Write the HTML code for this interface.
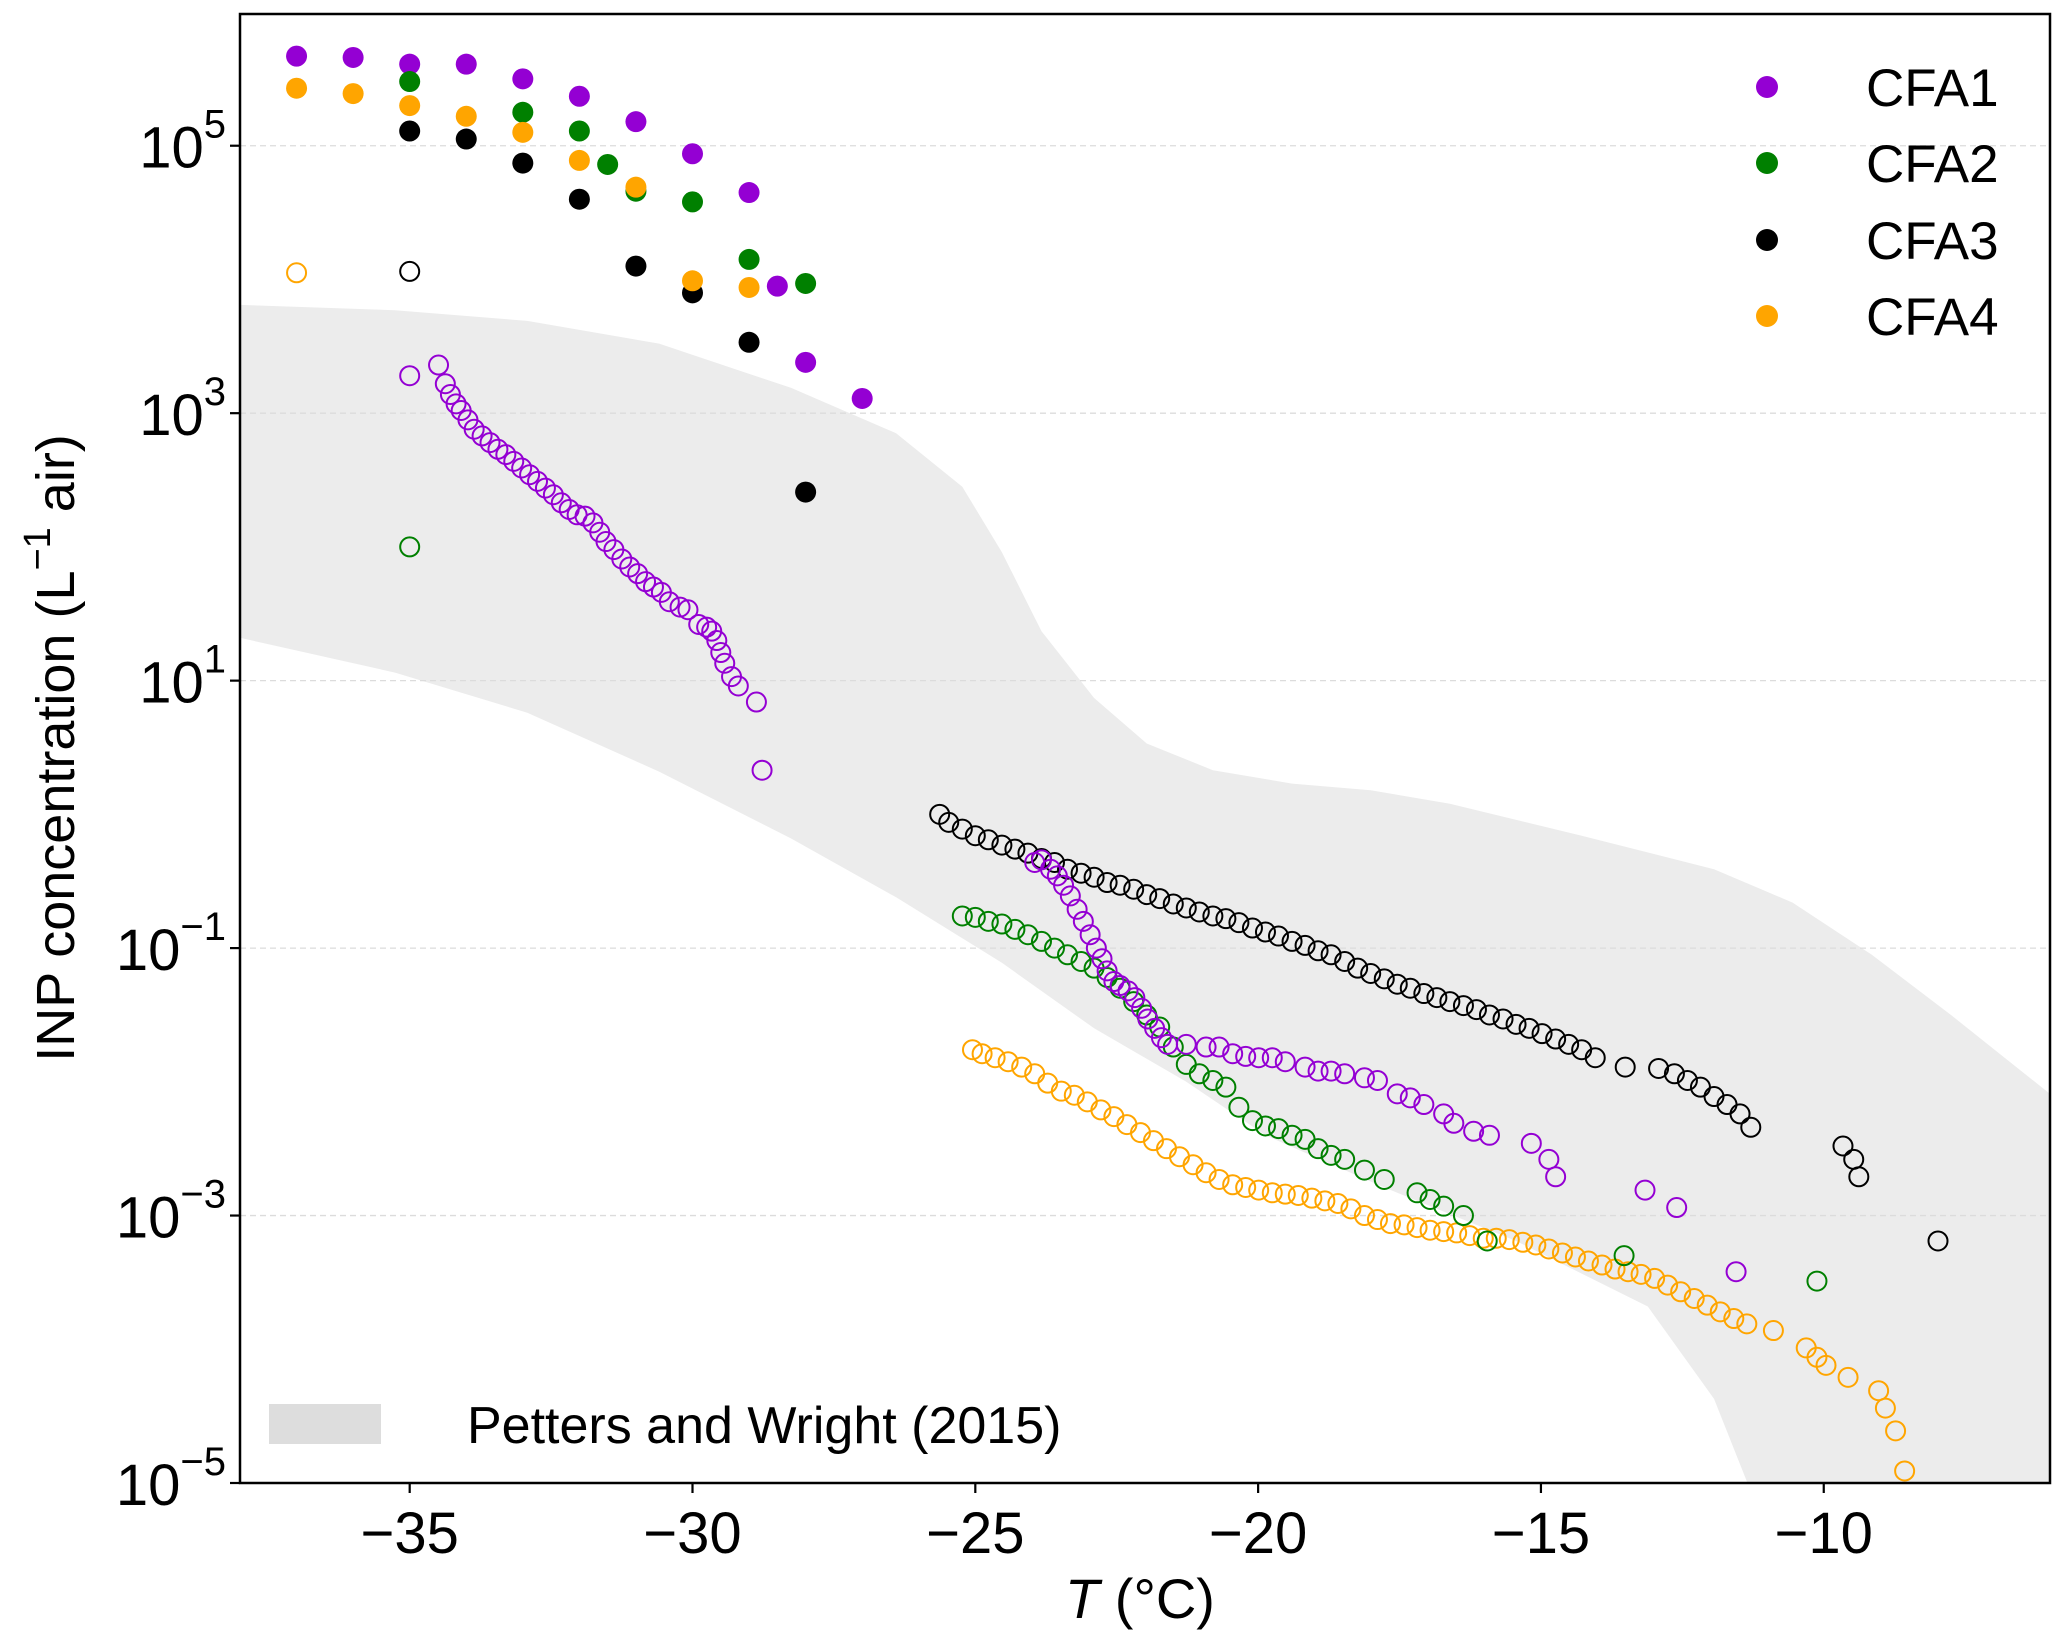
<!DOCTYPE html>
<html><head><meta charset="utf-8"><style>
html,body{margin:0;padding:0;background:#fff}
svg{display:block;font-family:"Liberation Sans",Arial,sans-serif}
</style></head><body>
<svg id="chart" width="2067" height="1642" viewBox="0 0 2067 1642" xmlns="http://www.w3.org/2000/svg">
<g id="band-layer"></g><g id="grid-layer"></g><g id="marks"></g><g id="axes"></g><g id="legend"></g>
</svg>
<script>
// ---- data (T in °C, values as log10 of INP concentration) ----
const bandUpperT=[-38,-35.26,-32.92,-30.59,-28.26,-26.40,-25.23,-24.53,-23.83,-22.90,-21.97,-20.80,-19.40,-18.01,-16.61,-14.28,-11.94,-10.55,-9.15,-7.75,-6.0];
const bandUpperLog=[3.81,3.77,3.69,3.52,3.19,2.85,2.45,1.96,1.37,0.87,0.53,0.33,0.23,0.18,0.08,-0.16,-0.41,-0.66,-1.05,-1.50,-2.09];
const bandLowerT=[-38,-35.26,-32.92,-30.59,-28.26,-26.40,-24.53,-22.90,-21.27,-19.87,-17.77,-15.44,-13.11,-11.94,-11.01,-10.55];
const bandLowerLog=[1.32,1.06,0.76,0.32,-0.18,-0.62,-1.11,-1.60,-2.00,-2.40,-2.79,-3.19,-3.68,-4.37,-5.36,-6.0];

const cfa1FilledT=[-37,-36,-35,-34,-33,-32,-31,-30,-29,-28.5,-28,-27];
const cfa1FilledLog=[5.67,5.66,5.61,5.61,5.5,5.37,5.18,4.94,4.65,3.95,3.38,3.11];
const cfa2FilledT=[-35,-33,-32,-31.5,-31,-30,-29,-28];
const cfa2FilledLog=[5.48,5.25,5.11,4.86,4.66,4.58,4.15,3.97];
const cfa3FilledT=[-35,-34,-33,-32,-31,-30,-29,-28];
const cfa3FilledLog=[5.11,5.05,4.87,4.6,4.1,3.9,3.53,2.41];
const cfa4FilledT=[-37,-36,-35,-34,-33,-32,-31,-30,-29];
const cfa4FilledLog=[5.43,5.39,5.3,5.22,5.1,4.89,4.69,3.99,3.94];

const cfa1OpenT=[-35,-34.49,-34.37,-34.28,-34.18,-34.09,-33.97,-33.86,-33.72,-33.58,-33.44,-33.30,-33.16,-33.02,-32.88,-32.74,-32.60,-32.46,-32.32,-32.18,-32.04,-31.90,-31.76,-31.64,-31.53,-31.39,-31.25,-31.11,-30.97,-30.83,-30.69,-30.55,-30.41,-30.22,-30.08,-29.89,-29.75,-29.66,-29.57,-29.50,-29.43,-29.31,-29.19,-28.87,-28.77,-23.95,-23.83,-23.67,-23.55,-23.44,-23.32,-23.20,-23.09,-22.97,-22.86,-22.76,-22.67,-22.55,-22.44,-22.30,-22.18,-22.06,-21.95,-21.83,-21.71,-21.60,-21.27,-20.92,-20.69,-20.45,-20.22,-19.99,-19.75,-19.52,-19.17,-18.94,-18.71,-18.47,-18.12,-17.89,-17.54,-17.31,-17.07,-16.72,-16.54,-16.19,-15.91,-15.17,-14.86,-14.74,-13.16,-12.60,-11.55];
const cfa1OpenLog=[3.28,3.36,3.22,3.14,3.07,3.02,2.95,2.88,2.83,2.78,2.73,2.69,2.64,2.59,2.54,2.49,2.44,2.39,2.33,2.28,2.24,2.23,2.18,2.11,2.04,1.98,1.91,1.85,1.80,1.74,1.70,1.66,1.59,1.55,1.53,1.42,1.40,1.37,1.30,1.21,1.13,1.03,0.96,0.84,0.33,-0.36,-0.34,-0.41,-0.46,-0.53,-0.61,-0.71,-0.80,-0.90,-1.00,-1.08,-1.17,-1.25,-1.28,-1.32,-1.37,-1.45,-1.53,-1.60,-1.67,-1.72,-1.72,-1.74,-1.74,-1.79,-1.81,-1.82,-1.82,-1.85,-1.89,-1.92,-1.92,-1.94,-1.97,-1.99,-2.09,-2.12,-2.17,-2.24,-2.31,-2.37,-2.40,-2.46,-2.58,-2.71,-2.81,-2.94,-3.42];

const cfa2OpenT=[-35,-25.23,-25.0,-24.77,-24.53,-24.30,-24.07,-23.83,-23.60,-23.37,-23.13,-22.90,-22.67,-22.44,-22.20,-21.97,-21.74,-21.50,-21.27,-21.04,-20.80,-20.57,-20.34,-20.10,-19.87,-19.64,-19.40,-19.17,-18.94,-18.71,-18.47,-18.12,-17.77,-17.19,-16.96,-16.72,-16.37,-15.95,-13.53,-10.12];
const cfa2OpenLog=[2.0,-0.76,-0.77,-0.80,-0.82,-0.86,-0.90,-0.95,-1.00,-1.05,-1.10,-1.15,-1.22,-1.30,-1.40,-1.50,-1.59,-1.74,-1.87,-1.94,-1.99,-2.04,-2.19,-2.29,-2.33,-2.35,-2.40,-2.43,-2.50,-2.55,-2.58,-2.66,-2.73,-2.83,-2.88,-2.93,-3.00,-3.19,-3.30,-3.49];

const cfa3OpenT=[-35,-25.63,-25.47,-25.23,-25.0,-24.77,-24.53,-24.30,-24.07,-23.83,-23.60,-23.37,-23.13,-22.90,-22.67,-22.44,-22.20,-21.97,-21.74,-21.50,-21.27,-21.04,-20.80,-20.57,-20.34,-20.10,-19.87,-19.64,-19.40,-19.17,-18.94,-18.71,-18.47,-18.24,-18.01,-17.77,-17.54,-17.31,-17.07,-16.84,-16.61,-16.37,-16.14,-15.91,-15.67,-15.44,-15.21,-14.98,-14.74,-14.51,-14.28,-14.04,-13.51,-12.92,-12.64,-12.41,-12.18,-11.94,-11.71,-11.48,-11.29,-9.66,-9.47,-9.38,-7.98];
const cfa3OpenLog=[4.06,0,-0.06,-0.11,-0.16,-0.19,-0.23,-0.26,-0.29,-0.33,-0.36,-0.41,-0.44,-0.47,-0.51,-0.53,-0.56,-0.60,-0.63,-0.67,-0.70,-0.73,-0.76,-0.78,-0.81,-0.85,-0.88,-0.91,-0.95,-0.98,-1.02,-1.05,-1.10,-1.15,-1.19,-1.23,-1.27,-1.30,-1.34,-1.37,-1.40,-1.43,-1.46,-1.50,-1.53,-1.57,-1.60,-1.64,-1.68,-1.72,-1.76,-1.82,-1.89,-1.90,-1.94,-1.99,-2.04,-2.11,-2.17,-2.24,-2.34,-2.48,-2.58,-2.71,-3.19];

const cfa4OpenT=[-37.0,-25.05,-24.88,-24.65,-24.42,-24.18,-23.95,-23.72,-23.48,-23.25,-23.02,-22.78,-22.55,-22.32,-22.08,-21.85,-21.62,-21.39,-21.15,-20.92,-20.69,-20.45,-20.22,-19.99,-19.75,-19.52,-19.29,-19.05,-18.82,-18.59,-18.36,-18.12,-17.89,-17.66,-17.42,-17.19,-16.96,-16.72,-16.49,-16.26,-16.02,-15.79,-15.56,-15.32,-15.09,-14.86,-14.62,-14.39,-14.16,-13.92,-13.69,-13.46,-13.23,-12.99,-12.76,-12.53,-12.29,-12.06,-11.83,-11.59,-11.36,-10.89,-10.31,-10.12,-9.96,-9.57,-9.03,-8.91,-8.73,-8.57];
const cfa4OpenLog=[4.05,-1.76,-1.79,-1.82,-1.85,-1.89,-1.94,-2.01,-2.07,-2.10,-2.15,-2.21,-2.26,-2.32,-2.38,-2.44,-2.50,-2.56,-2.62,-2.68,-2.73,-2.77,-2.79,-2.81,-2.83,-2.84,-2.85,-2.87,-2.89,-2.91,-2.95,-3.00,-3.03,-3.06,-3.07,-3.09,-3.11,-3.12,-3.13,-3.15,-3.17,-3.17,-3.18,-3.20,-3.22,-3.25,-3.28,-3.31,-3.34,-3.37,-3.40,-3.42,-3.44,-3.47,-3.52,-3.57,-3.62,-3.67,-3.72,-3.77,-3.81,-3.86,-3.99,-4.06,-4.12,-4.21,-4.31,-4.44,-4.61,-4.91];

const xTicks=[-35,-30,-25,-20,-15,-10];
const xTickLabels=["\u221235","\u221230","\u221225","\u221220","\u221215","\u221210"];
const yTicks=[5,3,1,-1,-3,-5];
const yTickLabels=["5","3","1","\u22121","\u22123","\u22125"];
const seriesNames=["CFA1","CFA2","CFA3","CFA4"];
const seriesColors=["#9400d3","#008000","#000000","#ffa500"];

// ---- scales ----
const L=240,R=2050,T0=14,B=1483;
const xMin=-38,xMax=-6,yMin=-5,yMax=5.985;
const xs=t=>L+(t-xMin)/(xMax-xMin)*(R-L);
const ys=v=>B-(v-yMin)/(yMax-yMin)*(B-T0);
const NS="http://www.w3.org/2000/svg";
function mk(tag,attrs,parent){const e=document.createElementNS(NS,tag);for(const k in attrs)e.setAttribute(k,attrs[k]);parent.appendChild(e);return e;}

const svg=document.getElementById('chart');
const bandLayer=document.getElementById('band-layer');
const grid=document.getElementById('grid-layer');
const marks=document.getElementById('marks');
const axes=document.getElementById('axes');
const legend=document.getElementById('legend');

const defs=mk('defs',{},svg);
const cp=mk('clipPath',{id:'plotclip'},defs);
mk('rect',{x:L,y:T0,width:R-L,height:B-T0},cp);
bandLayer.setAttribute('clip-path','url(#plotclip)');
marks.setAttribute('clip-path','url(#plotclip)');

// band: upper edge left->right, down the right side, lower edge right->left
let d='';
bandUpperT.forEach((t,i)=>{d+=(i?'L':'M')+xs(t).toFixed(1)+','+ys(bandUpperLog[i]).toFixed(1);});
d+='L'+xs(xMax).toFixed(1)+','+ys(yMin-1).toFixed(1);
for(let i=bandLowerT.length-1;i>=0;i--){d+='L'+xs(bandLowerT[i]).toFixed(1)+','+ys(bandLowerLog[i]).toFixed(1);}
d+='Z';
const band=mk('path',{d:d,fill:'#ececec',stroke:'none'},bandLayer);



yTicks.forEach(v=>{const g=mk('line',{x1:L,x2:R,y1:ys(v),y2:ys(v),stroke:'#dcdcdc','stroke-width':1.3,'stroke-dasharray':'6,4'},grid);

});

function drawFilled(tArr,vArr,color,name){tArr.forEach((t,i)=>{const c=mk('circle',{cx:xs(t),cy:ys(vArr[i]),r:10.5,fill:color},marks);

});}
function drawOpen(tArr,vArr,color,name){tArr.forEach((t,i)=>{const c=mk('circle',{cx:xs(t),cy:ys(vArr[i]),r:9.5,fill:'none',stroke:color,'stroke-width':2},marks);

});}
drawOpen(cfa4OpenT,cfa4OpenLog,seriesColors[3],'cfa4');
drawOpen(cfa2OpenT,cfa2OpenLog,seriesColors[1],'cfa2');
drawOpen(cfa3OpenT,cfa3OpenLog,seriesColors[2],'cfa3');
drawOpen(cfa1OpenT,cfa1OpenLog,seriesColors[0],'cfa1');
drawFilled(cfa1FilledT,cfa1FilledLog,seriesColors[0],'cfa1');
drawFilled(cfa2FilledT,cfa2FilledLog,seriesColors[1],'cfa2');
drawFilled(cfa3FilledT,cfa3FilledLog,seriesColors[2],'cfa3');
drawFilled(cfa4FilledT,cfa4FilledLog,seriesColors[3],'cfa4');

const frame=mk('rect',{x:L,y:T0,width:R-L,height:B-T0,fill:'none',stroke:'#000','stroke-width':2.5},axes);



xTicks.forEach((t,i)=>{const x=xs(t);
mk('line',{x1:x,x2:x,y1:B,y2:B+10,stroke:'#000','stroke-width':2.2},axes);
const tx=mk('text',{x:x,y:B+70,'font-size':58,'text-anchor':'middle',fill:'#000'},axes);
tx.textContent=xTickLabels[i];

});

yTicks.forEach((v,i)=>{const y=ys(v);
mk('line',{x1:L-10,x2:L,y1:y,y2:y,stroke:'#000','stroke-width':2.2},axes);
const tx=mk('text',{x:L-20,y:y+22,'font-size':58,'text-anchor':'start',fill:'#000'},axes);
const a=mk('tspan',{},tx);a.textContent='10';
const b=mk('tspan',{dy:-30,'font-size':40},tx);b.textContent=yTickLabels[i];


const w=tx.getComputedTextLength();tx.setAttribute('x',L-14-w);
});

const xl=mk('text',{x:1140,y:1618,'font-size':56,'text-anchor':'middle',fill:'#000'},axes);
const xi=mk('tspan',{'font-style':'italic'},xl);xi.textContent='T';
const xr=mk('tspan',{},xl);xr.textContent=' (\u00b0C)';



const yl=mk('text',{x:0,y:0,'font-size':54,'text-anchor':'middle',fill:'#000',transform:'translate(74,748) rotate(-90)'},axes);
const y1=mk('tspan',{},yl);y1.textContent='INP concentration (L';
const y2=mk('tspan',{dy:-24,'font-size':38},yl);y2.textContent='\u22121';
const y3=mk('tspan',{dy:24},yl);y3.textContent=' air)';



const legY=[87,163,240,316];
seriesNames.forEach((n,i)=>{
const c=mk('circle',{cx:1767,cy:legY[i],r:11,fill:seriesColors[i]},legend);


const t=mk('text',{x:1866,y:legY[i]+19,'font-size':53,fill:'#000'},legend);
t.textContent=n;

});
const patch=mk('rect',{x:269,y:1404,width:112,height:40,fill:'#dddddd'},legend);


const pt=mk('text',{x:467,y:1443,'font-size':52,fill:'#000'},legend);
pt.textContent='Petters and Wright (2015)';


</script>
</body></html>
